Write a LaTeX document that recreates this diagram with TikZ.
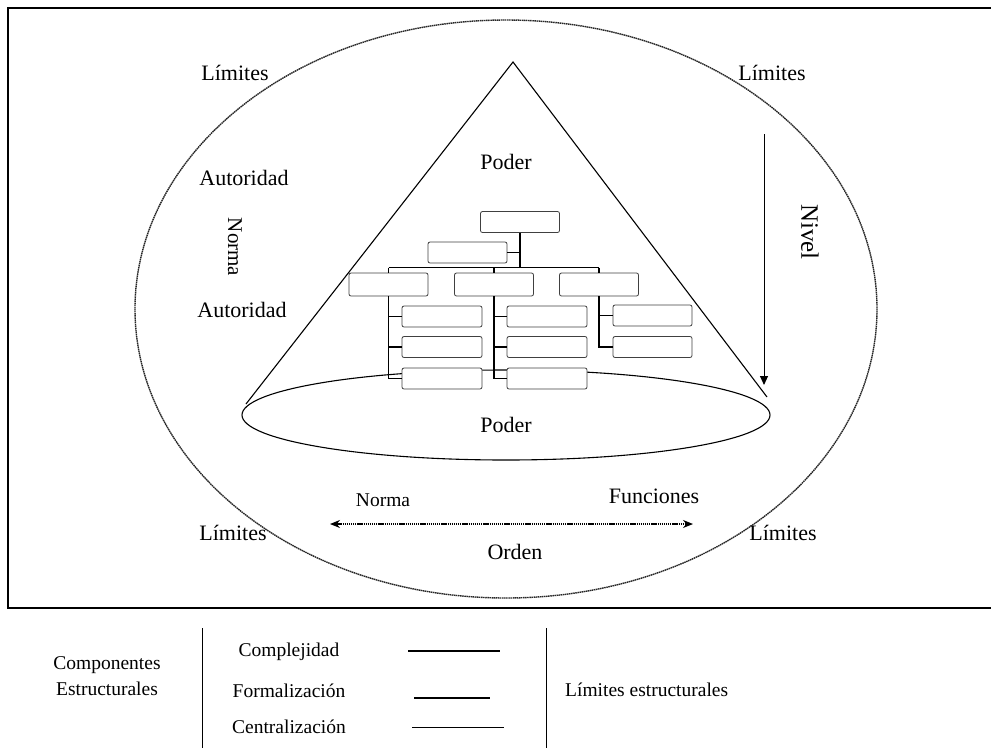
\documentclass[tikz,border=0pt]{standalone}
\usepackage{fontspec}
\setmainfont{Liberation Serif}
\usetikzlibrary{arrows.meta}
\begin{document}
\begin{tikzpicture}[x=1pt,y=-1pt,
  lbl/.style={font=\fontsize{22}{25}\selectfont, inner sep=0pt},
  small/.style={font=\fontsize{19.5}{22}\selectfont, inner sep=0pt},
  legend/.style={font=\fontsize{19.5}{22}\selectfont, inner sep=0pt},
  orgbox/.style={draw=black!75, line width=0.8pt, rounded corners=2pt, fill=white,
                 minimum width=79, minimum height=21, inner sep=0pt},
  midbox/.style={orgbox, minimum height=23},
  orgline/.style={line width=1.2pt},
  limit/.style={draw=black!85, line width=1.4pt, dash pattern=on 1.5pt off 0.6pt},
  cone/.style={line width=1.1pt},
]
\useasboundingbox (0,0) rectangle (991,748);

% outer frame, open on the right
\draw[line width=1.3pt] (991,8) -- (8,8) -- (8,608) -- (991,608);

% structural limits
\draw[limit] (506,309) ellipse [x radius=371, y radius=289];

% the cone of power
\coordinate (apex) at (513,62);
\coordinate (bl) at (246,404);
\coordinate (br) at (767,397);
\draw[cone] (bl) -- (apex) -- (br);
\draw[cone] (506,415) ellipse [x radius=264, y radius=45];

% organisation chart
\node[orgbox] (b0) at (520,222) {};
\node[orgbox] (b1) at (467.5,252.5) {};
\node[midbox] (A) at (388.5,284.5) {};
\node[midbox] (B) at (494,284.5) {};
\node[midbox] (C) at (599,284.5) {};
\node[orgbox, minimum width=80] (L1) at (442,316.5) {};
\node[orgbox, minimum width=80] (L2) at (442,347) {};
\node[orgbox, minimum width=80] (L3) at (442,378.5) {};
\node[orgbox, minimum width=80] (M1) at (547,316.5) {};
\node[orgbox, minimum width=80] (M2) at (547,347) {};
\node[orgbox, minimum width=80] (M3) at (547,378.5) {};
\node[orgbox] (R1) at (652.5,315.5) {};
\node[orgbox] (R2) at (652.5,347) {};

\path (A.north) ++(0,-5) coordinate (jl);
\path (C.north) ++(0,-5) coordinate (jr);
\draw[orgline] (jl) -- (jr);
\draw[orgline] (b0.south) -- (b0.south |- jl);
\draw[orgline] (b1.east) -- (b1.east -| b0.south);
\draw[orgline] (jl) -- (A.north);
\draw[orgline] (B.north |- jl) -- (B.north);
\draw[orgline] (jr) -- (C.north);
\draw[orgline] (A.south) |- (L3.west);
\draw[orgline] (A.south |- L1.west) -- (L1.west);
\draw[orgline] (A.south |- L2.west) -- (L2.west);
\draw[orgline] (B.south) |- (M3.west);
\draw[orgline] (B.south |- M1.west) -- (M1.west);
\draw[orgline] (B.south |- M2.west) -- (M2.west);
\draw[orgline] (C.south) |- (R2.west);
\draw[orgline] (C.south |- R1.west) -- (R1.west);

% level arrow
\coordinate (ntop) at (764,134);
\coordinate (nbot) at (764,385);
\draw[line width=1pt, -{Triangle[length=9pt,width=8pt]}] (ntop) -- (nbot);

% norm / functions arrow
\coordinate (ol) at (330,524);
\coordinate (or) at (693,524);
\draw[line width=1.3pt, dash pattern=on 1.3pt off 0.8pt,
      {Stealth[length=10pt,width=8pt]}-{Stealth[length=10pt,width=8pt]}] (ol) -- (or);

% labels
\node[lbl] (lim1) at (235,73) {Límites};
\node[lbl] (lim2) at (772,73) {Límites};
\node[lbl] (lim3) at (233,533) {Límites};
\node[lbl] (lim4) at (783,533) {Límites};
\node[lbl] (pod1) at (506,162) {Poder};
\node[lbl] (pod2) at (506,425) {Poder};
\node[lbl] (aut1) at (244,178) {Autoridad};
\node[lbl] (aut2) at (242,310) {Autoridad};
\node[lbl, font=\fontsize{21}{24}\selectfont, rotate=-90] (nor1) at (235,247) {Norma};
\node[lbl, font=\fontsize{25}{28}\selectfont, rotate=-90] (niv) at (810,232) {Nivel};
\node[small] (nor2) at (383,500) {Norma};
\node[lbl] (fun) at (654,496) {Funciones};
\node[lbl] (ord) at (515,552) {Orden};

% legend
\draw[line width=1pt] (202,628) -- (202,748);
\draw[line width=1pt] (546,628) -- (546,748);
\node[legend] (comp) at (107,665) {Componentes};
\node[legend] (estr) at (107,689) {Estructurales};
\node[legend] (cx) at (289,652) {Complejidad};
\node[legend] (fz) at (289,691) {Formalización};
\node[legend] (cz) at (289,727) {Centralización};
\draw[line width=2pt] (408,651) -- (500,651);
\draw[line width=1.3pt] (414,698) -- (490,698);
\draw[line width=1pt] (412,727) -- (504,727);
\node[legend, anchor=west] (lest) at (565,690) {Límites estructurales};
\end{tikzpicture}
\end{document}
